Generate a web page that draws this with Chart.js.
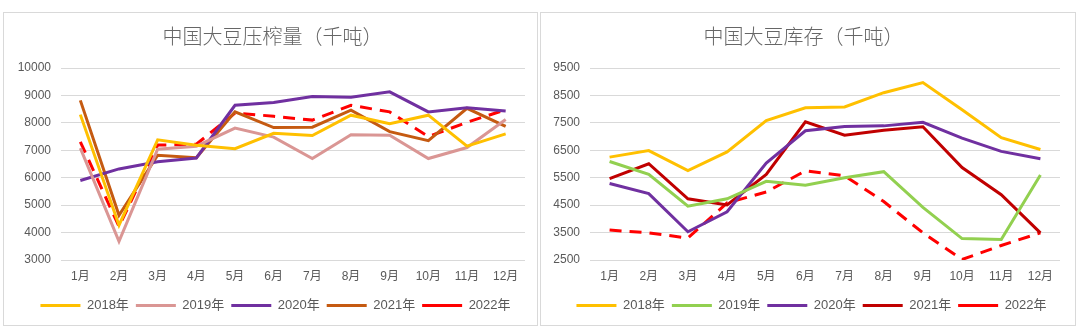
<!DOCTYPE html>
<html>
<head>
<meta charset="utf-8">
<script src="https://cdn.jsdelivr.net/npm/chart.js@4/dist/chart.umd.min.js"></script>
<style>
  body { margin: 0; background: #fff; width: 1080px; height: 333px; overflow: hidden; }
  .panel { position: absolute; top: 12px; height: 312px; border: 1px solid #d9d9d9; }
  #p1 { left: 3px; width: 533px; }
  #p2 { left: 540px; width: 534px; }
</style>
</head>
<body>
<div class="panel" id="p1"><canvas id="yazha" width="533" height="312"></canvas></div>
<div class="panel" id="p2"><canvas id="kucun" width="534" height="312"></canvas></div>
<script>
var meses = ['1月','2月','3月','4月','5月','6月','7月','8月','9月','10月','11月','12月'];

// 压榨量（千吨）
var yz2018 = [8300, 4270, 7380, 7180, 7060, 7620, 7540, 8280, 7970, 8280, 7150, 7600];
var yz2019 = [7080, 3680, 7040, 7150, 7810, 7480, 6700, 7570, 7550, 6700, 7100, 8120];
var yz2020 = [5900, 6320, 6580, 6720, 8640, 8740, 8960, 8930, 9130, 8400, 8550, 8430];
var yz2021 = [8820, 4630, 6820, 6730, 8400, 7830, 7840, 8460, 7680, 7350, 8530, 7870];
var yz2022 = [7310, 4220, 7190, 7220, 8360, 8240, 8100, 8640, 8400, 7500, 8020, 8480];

// 库存（千吨）
var kc2018 = [6250, 6490, 5760, 6440, 7580, 8050, 8080, 8600, 8970, 7980, 6960, 6530];
var kc2019 = [6090, 5620, 4460, 4730, 5370, 5230, 5500, 5720, 4420, 3280, 3250, 5600];
var kc2020 = [5290, 4920, 3530, 4260, 6030, 7210, 7370, 7390, 7520, 6940, 6460, 6190];
var kc2021 = [5470, 6010, 4730, 4510, 5620, 7540, 7050, 7230, 7360, 5870, 4880, 3490];
var kc2022 = [3590, 3490, 3300, 4580, 4980, 5750, 5570, 4630, 3490, 2520, 3030, 3490];

var fuente = "'Liberation Sans', 'Noto Sans CJK SC', sans-serif";
var gris = '#595959';

function serie(label, datos, color, dash) {
    return {
        label: label,
        data: datos,
        borderColor: color,
        backgroundColor: color,
        borderWidth: 3,
        borderDash: dash || [],
        pointRadius: 0,
        tension: 0,
        fill: false
    };
}

// mueve el título y la leyenda a la derecha sin tocar el área del gráfico
function desplazar(dxTitulo, dxLeyenda) {
    return {
        id: 'desplazar',
        afterLayout: function (chart) {
            chart.titleBlock.left += dxTitulo;
            chart.titleBlock.right += dxTitulo;
            chart.legend.left += dxLeyenda;
            chart.legend.right += dxLeyenda;
        }
    };
}

function opciones(titulo, min, max, anchoY, der) {
    return {
        responsive: false,
        animation: false,
        layout: { padding: { left: 0, right: der, top: 0, bottom: 3 } },
        plugins: {
            title: {
                display: true,
                text: titulo,
                color: '#666666',
                font: { family: "'Noto Sans CJK SC', sans-serif", size: 20, weight: 300 },
                padding: { top: 11, bottom: 20 }
            },
            legend: {
                position: 'bottom',
                labels: {
                    color: gris,
                    font: { family: fuente, size: 13 },
                    usePointStyle: true,
                    pointStyle: 'line',
                    pointStyleWidth: 40,
                    padding: 7
                }
            },
            tooltip: { enabled: false }
        },
        scales: {
            x: {
                offset: true,
                grid: { display: false, drawTicks: false },
                border: { display: false },
                ticks: { color: gris, font: { family: fuente, size: 12 }, padding: 9, maxRotation: 0 },
                afterFit: function (s) { s.height = 32; }
            },
            y: {
                min: min,
                max: max,
                grid: { color: '#d9d9d9', lineWidth: 1, drawTicks: false },
                border: { display: false },
                ticks: {
                    stepSize: 1000,
                    color: gris,
                    font: { family: fuente, size: 12 },
                    padding: 10,
                    callback: function (v) { return String(v); }
                },
                afterFit: function (s) { s.width = anchoY; }
            }
        }
    };
}

new Chart(document.getElementById('yazha'), {
    type: 'line',
    data: {
        labels: meses,
        datasets: [
            serie('2018年', yz2018, '#FFC000'),
            serie('2019年', yz2019, '#DA9694'),
            serie('2020年', yz2020, '#7030A0'),
            serie('2021年', yz2021, '#C55A11'),
            serie('2022年', yz2022, '#FF0000', [12, 8])
        ]
    },
    options: opciones('中国大豆压榨量（千吨）', 3000, 10000, 57, 12),
    plugins: [desplazar(8, 11)]
});

new Chart(document.getElementById('kucun'), {
    type: 'line',
    data: {
        labels: meses,
        datasets: [
            serie('2018年', kc2018, '#FFC000'),
            serie('2019年', kc2019, '#92D050'),
            serie('2020年', kc2020, '#7030A0'),
            serie('2021年', kc2021, '#C00000'),
            serie('2022年', kc2022, '#FF0000', [12, 8])
        ]
    },
    options: opciones('中国大豆库存（千吨）', 2500, 9500, 49, 15),
    plugins: [desplazar(3, 11)]
});
</script>
</body>
</html>
